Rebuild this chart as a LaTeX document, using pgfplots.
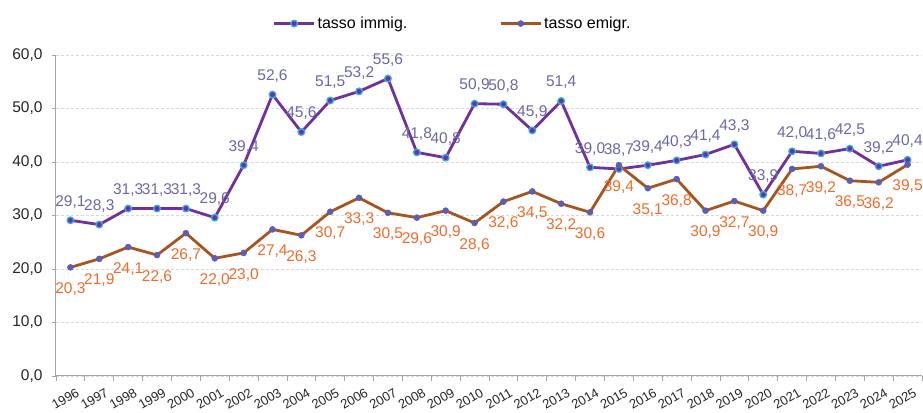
\documentclass[border=0pt]{standalone}
\usepackage{pgfplots}
\pgfplotsset{compat=1.18}
\usepackage{fontspec}
\setmainfont{Liberation Sans}
\definecolor{immline}{HTML}{7030A0}
\definecolor{immborder}{HTML}{2DB2E6}
\definecolor{immlab}{HTML}{6B68A8}
\definecolor{emline}{HTML}{A8541F}
\definecolor{emmark}{HTML}{5B5EB2}
\definecolor{emlab}{HTML}{F26B2A}
\definecolor{gridc}{HTML}{D9D9D9}
\definecolor{axisc}{HTML}{A6A6A6}
\pgfkeys{/pgf/number format/.cd, fixed, fixed zerofill, precision=1, use comma, assume math mode=true}
\begin{document}
\begin{tikzpicture}
\begin{axis}[
  scale only axis,
  width=866pt, height=321pt,
  xmin=-0.5, xmax=29.5,
  ymin=0, ymax=60,
  ytick={0,10,...,60},
  xtick={0,...,29},
  xticklabels={1996,1997,1998,1999,2000,2001,2002,2003,2004,2005,2006,2007,2008,2009,2010,2011,2012,2013,2014,2015,2016,2017,2018,2019,2020,2021,2022,2023,2024,2025},
  minor xtick={-0.5,0.5,...,29.5},
  major x tick style={draw=none},
  minor x tick style={axisc, line width=0.8pt},
  minor tick length=5pt,
  y tick style={axisc, line width=0.8pt},
  major tick length=4pt,
  tick align=outside,
  axis x line*=bottom,
  axis y line*=left,
  axis line style={axisc, line width=1pt, -},
  ymajorgrids,
  grid style={gridc, dash pattern=on 3pt off 2pt, line width=0.6pt},
  tick label style={font=\fontsize{15.5}{17}\selectfont, text=black!85},
  x tick label style={rotate=30, anchor=north east, inner sep=1pt, yshift=-8pt, xshift=2pt, font=\fontsize{13}{15}\selectfont},
  yticklabel style={xshift=-6pt},
  clip=false,
  legend style={at={(0.458,1.098)}, anchor=center, draw=none, fill=none,
    legend columns=2, font=\fontsize{16}{18}\selectfont,
    /tikz/every even column/.append style={column sep=90pt}},
  legend image code/.code={\draw[#1, mark repeat=2, mark phase=2] plot coordinates {(0pt,0pt) (20pt,0pt) (40pt,0pt)};},
  nodes near coords,
  every node near coord/.append style={font=\fontsize{15.5}{17}\selectfont, inner sep=1pt},
]
\addplot[immline, line width=2.8pt, mark=*, mark size=3.3pt,
  mark options={fill=immline, draw=immborder, line width=1.3pt},
  every node near coord/.append style={text=immlab, anchor=south, yshift=10.5pt}]
  coordinates {
(0,29.1)(1,28.3)(2,31.3)(3,31.3)(4,31.3)(5,29.6)(6,39.4)(7,52.6)(8,45.6)(9,51.5)
(10,53.2)(11,55.6)(12,41.8)(13,40.8)(14,50.9)(15,50.8)(16,45.9)(17,51.4)(18,39.0)(19,38.7)
(20,39.4)(21,40.3)(22,41.4)(23,43.3)(24,33.9)(25,42.0)(26,41.6)(27,42.5)(28,39.2)(29,40.4)};
\addlegendentry{tasso immig.}
\addplot[emline, line width=2.8pt, mark=*, mark size=3pt,
  mark options={fill=emmark, draw=emmark, line width=0.5pt},
  every node near coord/.append style={text=emlab, anchor=north, yshift=-14pt}]
  coordinates {
(0,20.3)(1,21.9)(2,24.1)(3,22.6)(4,26.7)(5,22.0)(6,23.0)(7,27.4)(8,26.3)(9,30.7)
(10,33.3)(11,30.5)(12,29.6)(13,30.9)(14,28.6)(15,32.6)(16,34.5)(17,32.2)(18,30.6)(19,39.4)
(20,35.1)(21,36.8)(22,30.9)(23,32.7)(24,30.9)(25,38.7)(26,39.2)(27,36.5)(28,36.2)(29,39.5)};
\addlegendentry{tasso emigr.}
\end{axis}
\pgfresetboundingbox
\path ([shift={(-56pt,-37pt)}]current axis.south west) rectangle ([shift={(1pt,55pt)}]current axis.north east);
\end{tikzpicture}
\end{document}
